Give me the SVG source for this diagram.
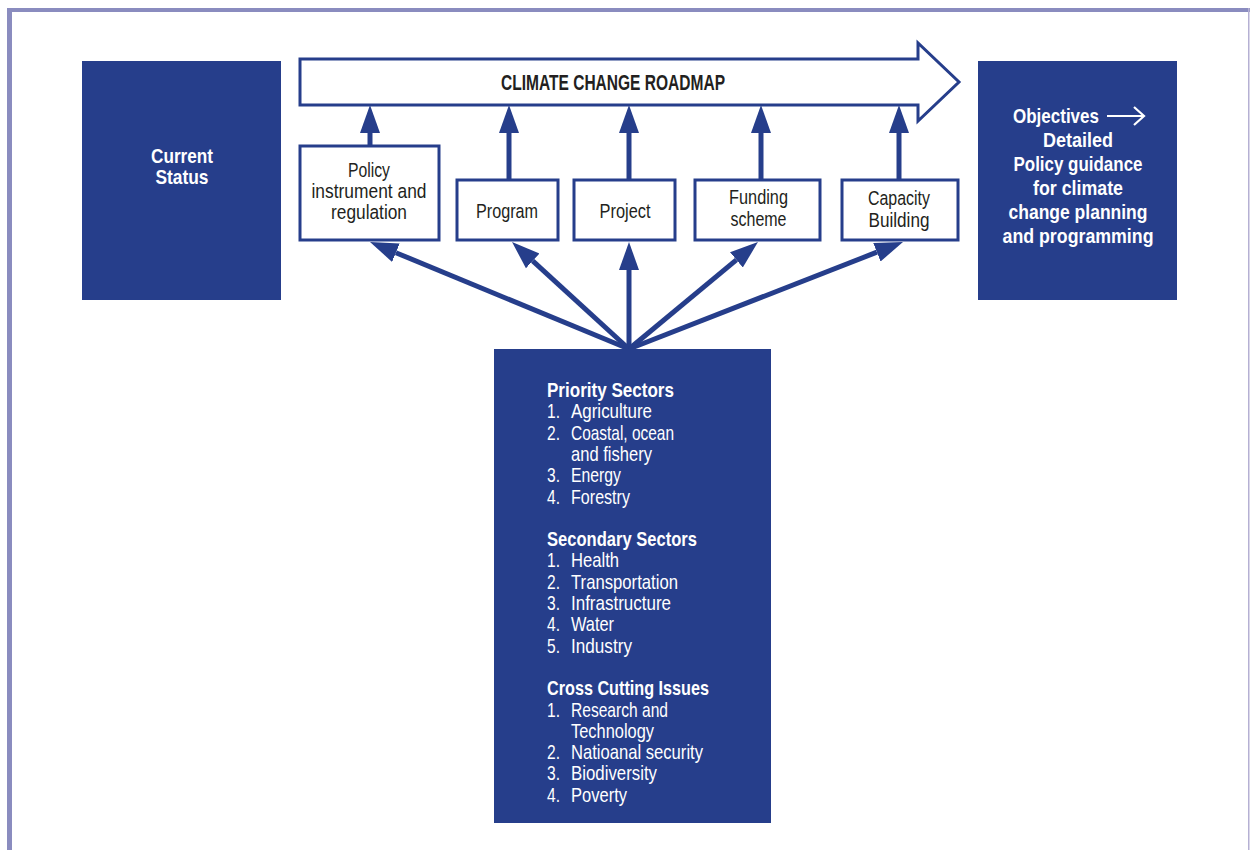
<svg xmlns="http://www.w3.org/2000/svg" width="1250" height="850" viewBox="0 0 1250 850">
<defs>
<style>
.blue{fill:#263e8b}
.box{fill:#fff;stroke:#263e8b;stroke-width:3}
.t{font-family:"Liberation Sans",Arial,sans-serif;font-size:20.5px;fill:#231f20;text-anchor:middle}
.w{font-family:"Liberation Sans",Arial,sans-serif;font-size:21px;fill:#fff}
.b{font-weight:bold}
.c{text-anchor:middle}
.ln{stroke:#263e8b;stroke-width:5;fill:none}
</style>
<marker id="ah" markerUnits="userSpaceOnUse" viewBox="0 -11 30 22" refX="0" refY="0" markerWidth="30" markerHeight="22" orient="auto">
<path d="M0,-10 L28,0 L0,10 Z" fill="#263e8b"/>
</marker>
</defs>
<rect width="1250" height="850" fill="#fff"/>
<g id="frame">
<rect x="7" y="8" width="1243" height="4" fill="#8a8cbf"/>
<rect x="7" y="8" width="5" height="842" fill="#8a8cbf"/>
<rect x="1248" y="8" width="1.5" height="842" fill="#b5b0d3"/>
</g>
<g id="connectors">
<line class="ln" x1="370" y1="146" x2="370" y2="133" marker-end="url(#ah)"/>
<line class="ln" x1="509" y1="180" x2="509" y2="133" marker-end="url(#ah)"/>
<line class="ln" x1="629" y1="180" x2="629" y2="133" marker-end="url(#ah)"/>
<line class="ln" x1="761" y1="180" x2="761" y2="133" marker-end="url(#ah)"/>
<line class="ln" x1="899" y1="180" x2="899" y2="133" marker-end="url(#ah)"/>
<line class="ln" x1="629" y1="349" x2="395.9" y2="252.7" marker-end="url(#ah)"/>
<line class="ln" x1="629" y1="349" x2="532.7" y2="260.9" marker-end="url(#ah)"/>
<line class="ln" x1="629" y1="349" x2="629" y2="270" marker-end="url(#ah)"/>
<line class="ln" x1="629" y1="349" x2="736.4" y2="259.9" marker-end="url(#ah)"/>
<line class="ln" x1="629" y1="349" x2="876.9" y2="252.2" marker-end="url(#ah)"/>
</g>
<g id="current-status">
<rect class="blue" x="82" y="61" width="199" height="239"/>
<text class="w b c" x="182" y="163" textLength="62" lengthAdjust="spacingAndGlyphs">Current</text>
<text class="w b c" x="182" y="184" textLength="53" lengthAdjust="spacingAndGlyphs">Status</text>
</g>
<g id="roadmap">
<polygon points="300,59 918,59 918,43 959,82 918,121 918,105 300,105" fill="#fff" stroke="#263e8b" stroke-width="3"/>
<text class="t b" x="613" y="90" style="font-size:22px" textLength="224" lengthAdjust="spacingAndGlyphs">CLIMATE CHANGE ROADMAP</text>
</g>
<g id="objectives">
<rect class="blue" x="978" y="61" width="199" height="239"/>
<text class="w b" x="1013" y="122.5" textLength="86" lengthAdjust="spacingAndGlyphs">Objectives</text>
<path d="M1107,116 H1144 M1134,107 L1144,116 L1134,125" stroke="#fff" stroke-width="2.2" fill="none"/>
<text class="w b c" x="1078" y="146.5" textLength="70" lengthAdjust="spacingAndGlyphs">Detailed</text>
<text class="w b c" x="1078" y="170.5" textLength="129" lengthAdjust="spacingAndGlyphs">Policy guidance</text>
<text class="w b c" x="1078" y="194.5" textLength="90" lengthAdjust="spacingAndGlyphs">for climate</text>
<text class="w b c" x="1078" y="218.5" textLength="139" lengthAdjust="spacingAndGlyphs">change planning</text>
<text class="w b c" x="1078" y="242.5" textLength="151" lengthAdjust="spacingAndGlyphs">and programming</text>
</g>
<g id="policy">
<rect class="box" x="300" y="146" width="139" height="94"/>
<text class="t" x="369" y="177" textLength="42" lengthAdjust="spacingAndGlyphs">Policy</text>
<text class="t" x="369" y="198" textLength="115" lengthAdjust="spacingAndGlyphs">instrument and</text>
<text class="t" x="369" y="219" textLength="76" lengthAdjust="spacingAndGlyphs">regulation</text>
</g>
<g id="program">
<rect class="box" x="457" y="180" width="101" height="60"/>
<text class="t" x="507" y="218" textLength="62" lengthAdjust="spacingAndGlyphs">Program</text>
</g>
<g id="project">
<rect class="box" x="574" y="180" width="101" height="60"/>
<text class="t" x="625" y="218" textLength="51" lengthAdjust="spacingAndGlyphs">Project</text>
</g>
<g id="funding">
<rect class="box" x="695" y="180" width="125" height="60"/>
<text class="t" x="758.5" y="204" textLength="59" lengthAdjust="spacingAndGlyphs">Funding</text>
<text class="t" x="758.5" y="225.5" textLength="56" lengthAdjust="spacingAndGlyphs">scheme</text>
</g>
<g id="capacity">
<rect class="box" x="842" y="180" width="116" height="60"/>
<text class="t" x="899" y="205" textLength="62" lengthAdjust="spacingAndGlyphs">Capacity</text>
<text class="t" x="899" y="226.5" textLength="61" lengthAdjust="spacingAndGlyphs">Building</text>
</g>
<g id="sectors">
<rect class="blue" x="494" y="349" width="277" height="474"/>
<g class="w">
<text class="b" x="547" y="397" textLength="127" lengthAdjust="spacingAndGlyphs">Priority Sectors</text>
<text x="547" y="418.3" textLength="13" lengthAdjust="spacingAndGlyphs">1.</text><text x="571" y="418.3" textLength="81" lengthAdjust="spacingAndGlyphs">Agriculture</text>
<text x="547" y="439.6" textLength="13" lengthAdjust="spacingAndGlyphs">2.</text><text x="571" y="439.6" textLength="103" lengthAdjust="spacingAndGlyphs">Coastal, ocean</text>
<text x="571" y="460.9" textLength="81" lengthAdjust="spacingAndGlyphs">and fishery</text>
<text x="547" y="482.2" textLength="13" lengthAdjust="spacingAndGlyphs">3.</text><text x="571" y="482.2" textLength="50" lengthAdjust="spacingAndGlyphs">Energy</text>
<text x="547" y="503.5" textLength="13" lengthAdjust="spacingAndGlyphs">4.</text><text x="571" y="503.5" textLength="59" lengthAdjust="spacingAndGlyphs">Forestry</text>
<text class="b" x="547" y="546.1" textLength="150" lengthAdjust="spacingAndGlyphs">Secondary Sectors</text>
<text x="547" y="567.4" textLength="13" lengthAdjust="spacingAndGlyphs">1.</text><text x="571" y="567.4" textLength="48" lengthAdjust="spacingAndGlyphs">Health</text>
<text x="547" y="588.7" textLength="13" lengthAdjust="spacingAndGlyphs">2.</text><text x="571" y="588.7" textLength="107" lengthAdjust="spacingAndGlyphs">Transportation</text>
<text x="547" y="610" textLength="13" lengthAdjust="spacingAndGlyphs">3.</text><text x="571" y="610" textLength="100" lengthAdjust="spacingAndGlyphs">Infrastructure</text>
<text x="547" y="631.3" textLength="13" lengthAdjust="spacingAndGlyphs">4.</text><text x="571" y="631.3" textLength="43" lengthAdjust="spacingAndGlyphs">Water</text>
<text x="547" y="652.6" textLength="13" lengthAdjust="spacingAndGlyphs">5.</text><text x="571" y="652.6" textLength="61" lengthAdjust="spacingAndGlyphs">Industry</text>
<text class="b" x="547" y="695.2" textLength="162" lengthAdjust="spacingAndGlyphs">Cross Cutting Issues</text>
<text x="547" y="716.5" textLength="13" lengthAdjust="spacingAndGlyphs">1.</text><text x="571" y="716.5" textLength="97" lengthAdjust="spacingAndGlyphs">Research and</text>
<text x="571" y="737.8" textLength="83" lengthAdjust="spacingAndGlyphs">Technology</text>
<text x="547" y="759.1" textLength="13" lengthAdjust="spacingAndGlyphs">2.</text><text x="571" y="759.1" textLength="132" lengthAdjust="spacingAndGlyphs">Natioanal security</text>
<text x="547" y="780.4" textLength="13" lengthAdjust="spacingAndGlyphs">3.</text><text x="571" y="780.4" textLength="86" lengthAdjust="spacingAndGlyphs">Biodiversity</text>
<text x="547" y="801.7" textLength="13" lengthAdjust="spacingAndGlyphs">4.</text><text x="571" y="801.7" textLength="56" lengthAdjust="spacingAndGlyphs">Poverty</text>
</g>
</g>
</svg>
